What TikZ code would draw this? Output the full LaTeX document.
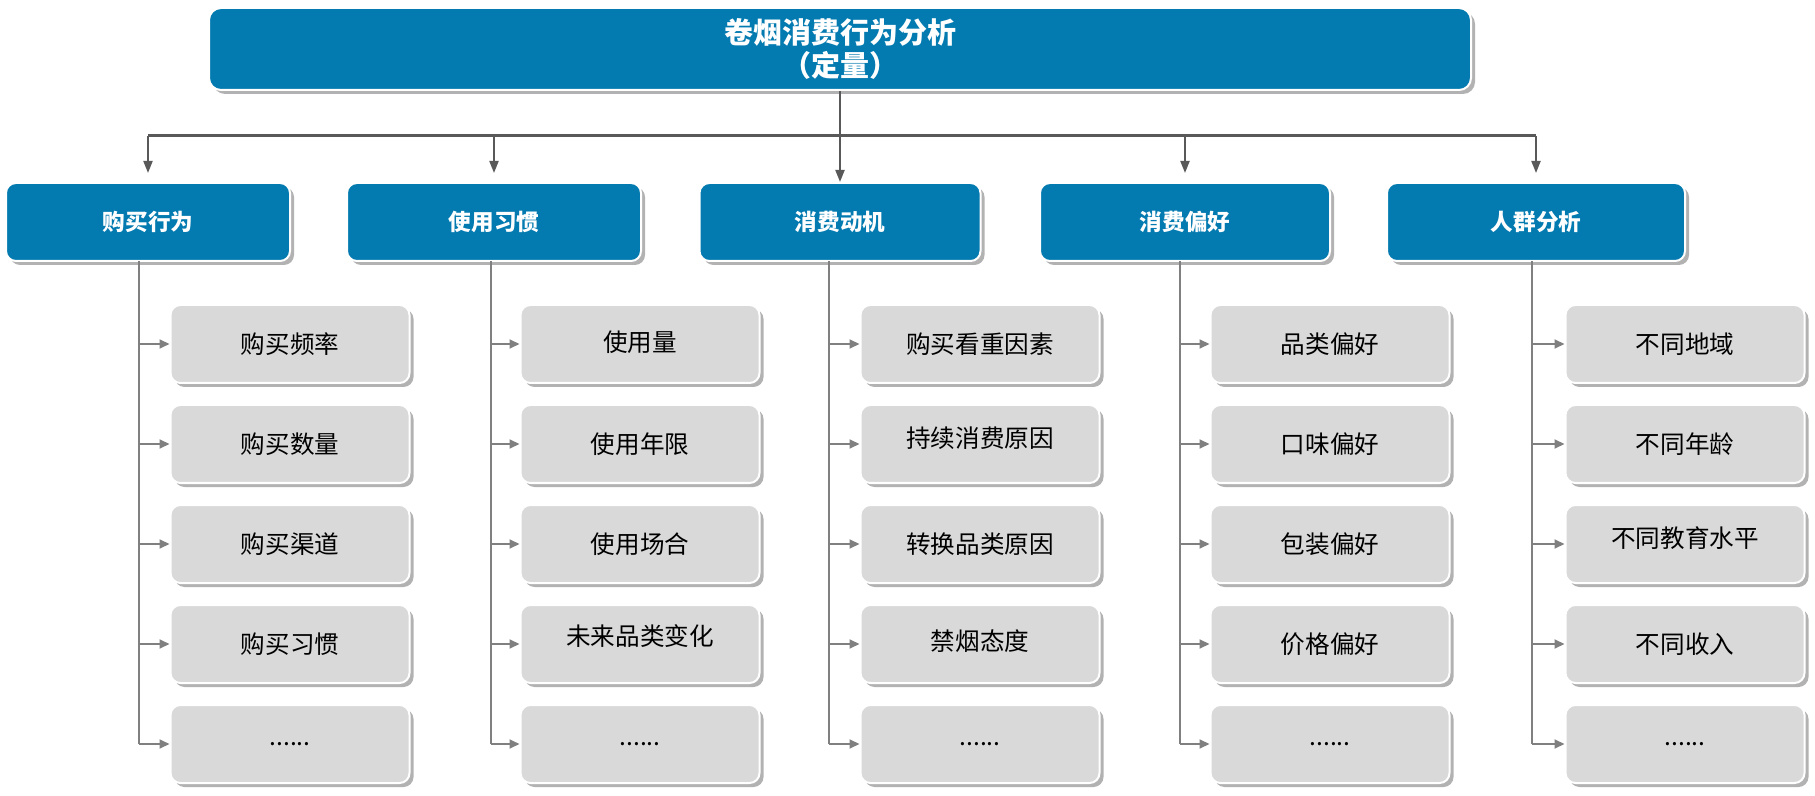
\documentclass[tikz,border=0pt]{standalone}
\usepackage{fontspec}
\setmainfont{Noto Sans CJK SC}
\usetikzlibrary{positioning,shadows,arrows.meta,calc}
\definecolor{headblue}{HTML}{037AB0}
\definecolor{subgray}{HTML}{D9D9D9}
\definecolor{busgray}{HTML}{595959}
\definecolor{trunkgray}{HTML}{808080}
\newcommand{\moredots}{......}

\begin{document}
\begin{tikzpicture}[x=0.5pt,y=-0.5pt,
	boxshadow/.style={drop shadow={shadow xshift=2pt,shadow yshift=-2pt,fill=black,opacity=0.3}},
	titlebox/.style={boxshadow,draw=white,line width=1pt,fill=headblue,rounded corners=6pt,text=white,align=center,inner sep=0pt,
		minimum width=631pt,minimum height=41pt,font=\bfseries\fontsize{14.5}{16.5}\selectfont},
	catbox/.style={boxshadow,draw=white,line width=1pt,fill=headblue,rounded corners=5pt,text=white,inner sep=0pt,
		minimum height=39pt,font=\bfseries\fontsize{11.3}{13}\selectfont},
	subbox/.style={boxshadow,draw=white,line width=1pt,fill=subgray,rounded corners=5pt,inner sep=0pt,
		minimum width=119.5pt,minimum height=39pt},
	sublabel/.style={text=black,font=\fontsize{12.3}{14}\selectfont},
	busline/.style={draw=busgray,line width=1.5pt},
	stem/.style={draw=busgray,line width=1pt,-{Triangle[width=4.5pt,length=6pt]}},
	trunk/.style={draw=trunkgray,line width=0.8pt},
	subarrow/.style={draw=trunkgray,line width=0.9pt,-{Triangle[width=4.5pt,length=5pt]}}]
	\useasboundingbox (0,0) rectangle (1815,796);
	\def\caty{222}
	\def\busy{136}
	% top
	\node[titlebox] (title) at (840,49) {卷烟消费行为分析\\（定量）};
	% categories
	\foreach \i/\cx/\w/\lbl in {1/148/284/购买行为,2/494/294/使用习惯,3/840/281/消费动机,4/1185/290/消费偏好,5/1536/298/人群分析}
		\node[catbox,minimum width=\w*0.5pt] (cat\i) at (\cx,\caty) {\lbl};
	\coordinate (bus) at (0,\busy);
	\draw[busline] (cat1.north |- bus) -- (cat5.north |- bus);
	\draw[stem] (title.south) -- (cat3.north);
	\foreach \i in {1,2,4,5}
		\draw[stem] (cat\i.north |- bus) -- ([yshift=4.5pt]cat\i.north);
	% sub items (label/text lift in pt)
	\foreach \i/\tx/\cx/\items in {
		1/139/290/{购买频率/0,购买数量/0,购买渠道/0,购买习惯/0,\moredots/0},
		2/491/640/{使用量/1,使用年限/0,使用场合/0,未来品类变化/4,\moredots/0},
		3/829/980/{购买看重因素/0,持续消费原因/3,转换品类原因/0,禁烟态度/1.5,\moredots/0},
		4/1180/1330/{品类偏好/0,口味偏好/0,包装偏好/0,价格偏好/0,\moredots/0},
		5/1532/1685/{不同地域/0,不同年龄/0,不同教育水平/3,不同收入/0,\moredots/0}}{
		\coordinate (t\i) at (\tx,261);
		\foreach \t/\dy [count=\j] in \items {
			\node[subbox] (c\i-\j) at (\cx,{344+100*(\j-1)}) {};
			\node[sublabel,yshift=\dy pt] (l\i-\j) at (c\i-\j) {\t};
		}
		\draw[trunk] (t\i) -- (t\i |- c\i-5.west);
		\foreach \j in {1,...,5}
			\draw[subarrow] (t\i |- c\i-\j.west) -- (c\i-\j.west);
	}
\end{tikzpicture}
\end{document}
